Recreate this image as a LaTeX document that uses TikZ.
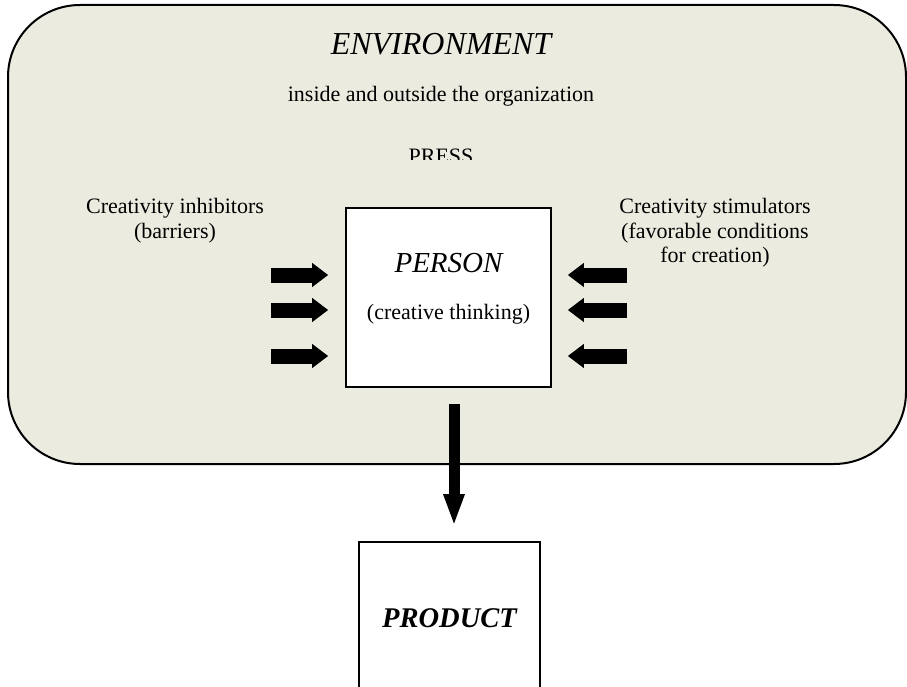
\documentclass[tikz,border=0pt]{standalone}
\usepackage{fontspec}
\setmainfont{Liberation Serif}
\usetikzlibrary{arrows.meta}
\definecolor{envfill}{RGB}{236,235,224}
\begin{document}
\begin{tikzpicture}[x=1pt,y=-1pt,
  txt/.style={font=\fontsize{22}{25}\selectfont, anchor=base, inner sep=0pt},
  big/.style={font=\itshape\fontsize{29}{32}\selectfont},
  box/.style={draw, line width=1.6pt, fill=white, inner sep=0pt},
  push/.style={line width=15pt, -{Triangle[width=23pt,length=16pt]}},
  down/.style={line width=11pt, -{Triangle[width=19pt,length=32pt]}}]
\useasboundingbox (0,0) rectangle (907,687);
\clip (0,0) rectangle (907,687);

% environment frame
\draw[line width=2pt, fill=envfill, rounded corners=72pt] (8,5) rectangle (906,464);
\node[txt, font=\itshape\fontsize{32}{36}\selectfont] (envtitle) at (441,55) {ENVIRONMENT};
\node[txt] (envsub) at (441,102) {inside and outside the organization};

% PRESS label, lower part hidden
\begin{scope}
  \clip (380,140) rectangle (500,160);
  \node[txt] (press) at (441,164) {PRESS};
\end{scope}

% side labels
\node[txt] (inh1) at (175,213) {Creativity inhibitors};
\node[txt] (inh2) at (175,238) {(barriers)};
\node[txt] (sti1) at (715,213) {Creativity stimulators};
\node[txt] (sti2) at (715,238) {(favorable conditions};
\node[txt] (sti3) at (715,262) {for creation)};

% person box
\node[box, minimum width=205pt, minimum height=179pt] (person) at (448.5,297.5) {};
\node[txt, big] (pname) at (448.5,272) {PERSON};
\node[txt] (pdesc) at (448.5,319) {(creative thinking)};

% product box
\node[box, minimum width=181pt, minimum height=152pt, font=\bfseries\itshape\fontsize{28.5}{32}\selectfont] (product) at (449.5,618) {PRODUCT};

% pressure arrows
\coordinate (l1) at (271,275);
\coordinate (l2) at (271,310);
\coordinate (l3) at (271,356);
\coordinate (r1) at (627,275);
\coordinate (r2) at (627,310);
\coordinate (r3) at (627,356);
\foreach \c in {l1,l2,l3}
  \draw[push, shorten >=17pt] (\c) -- (\c -| person.west);
\foreach \c in {r1,r2,r3}
  \draw[push, shorten >=16pt] (\c) -- (\c -| person.east);

% result arrow
\coordinate (d0) at ([xshift=5.5pt]person.south);
\draw[down, shorten <=16pt, shorten >=15pt] (d0) -- (d0 |- product.north);
\end{tikzpicture}
\end{document}
